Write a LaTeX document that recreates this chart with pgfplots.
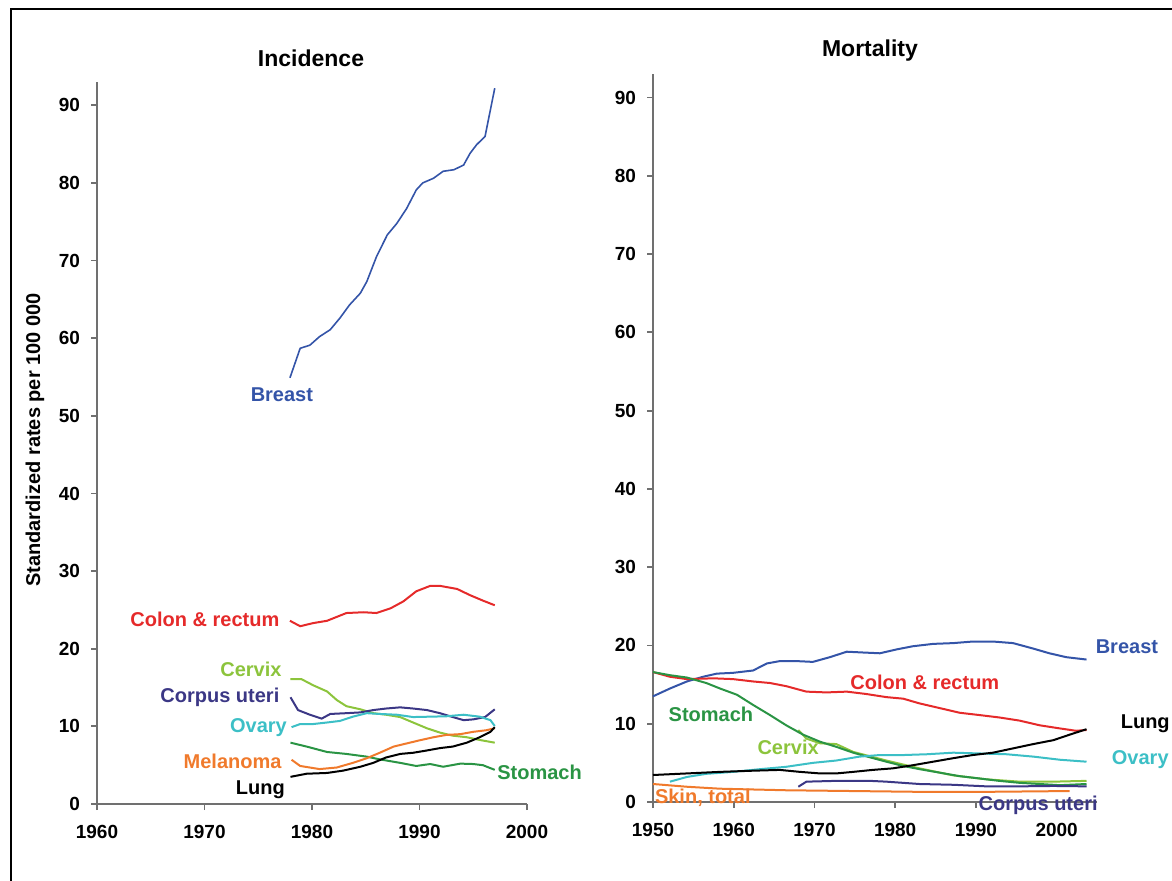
\documentclass[border=0pt]{standalone}
\usepackage{pgfplots}
\pgfplotsset{compat=1.18}
\usepackage{fontspec}
\setmainfont{Liberation Sans}
\definecolor{axgray}{HTML}{707070}
\definecolor{cbreast}{HTML}{3454A8}
\definecolor{ccolon}{HTML}{E52A2A}
\definecolor{ccervix}{HTML}{8CC43C}
\definecolor{ccorpus}{HTML}{3B3785}
\definecolor{covary}{HTML}{3CBFC6}
\definecolor{corange}{HTML}{F07A2C}
\definecolor{cstomach}{HTML}{2A9444}
\tikzset{lab/.style={font=\bfseries\fontsize{10}{12}\selectfont, inner sep=0pt}}
\pgfplotsset{
  panel/.style={
    scale only axis,
    axis lines*=left,
    axis line style={draw=axgray, line width=1.2pt},
    every tick/.style={draw=axgray, line width=0.9pt},
    tick align=outside,
    major tick length=3pt,
    ymin=0, ymax=93,
    ytick={0,10,...,90},
    clip=false,
    ticklabel style={font=\bfseries\fontsize{9.5}{10}\selectfont},
    xticklabel style={yshift=-4pt},
    yticklabel style={xshift=-2pt},
    /pgf/number format/assume math mode=true,
    /pgf/number format/1000 sep={},
    every axis plot/.append style={line width=1pt, no marks},
  },
}
\begin{document}
\begin{tikzpicture}
\useasboundingbox (0,0) rectangle (586pt,440pt);
\draw[line width=1pt] (5.5pt,435.5pt) rectangle (640pt,-20pt);
\node[font=\bfseries\fontsize{11.5}{13}\selectfont] at (155.5pt,411pt) {Incidence};
\node[font=\bfseries\fontsize{11.5}{13}\selectfont] at (435pt,414.5pt) {Mortality};
\node[font=\bfseries\fontsize{10}{12}\selectfont, rotate=90] at (17.5pt,220pt) {Standardized rates per 100 000};

% ---------------- Incidence ----------------
\begin{axis}[panel, at={(48.5pt,38pt)}, anchor=south west,
  width=215pt, height=361pt, xmin=1960, xmax=2000,
  xtick={1960,1970,...,2000}]
\addplot[cbreast, line width=0.8pt] coordinates {
(1977.95,54.9)(1978.9,58.7)(1979.8,59.1)(1980.7,60.2)(1981.7,61.1)(1982.6,62.6)
(1983.5,64.3)(1984.5,65.8)(1985.1,67.3)(1986.0,70.5)(1987.0,73.3)(1987.9,74.8)
(1988.8,76.7)(1989.7,79.1)(1990.3,80.0)(1991.3,80.6)(1992.2,81.5)(1993.2,81.7)
(1994.1,82.3)(1994.7,83.8)(1995.3,84.9)(1996.1,86.0)(1997.0,92.2)};
\addplot[ccolon] coordinates {
(1977.95,23.6)(1978.9,22.9)(1980.1,23.3)(1981.4,23.6)(1983.2,24.6)(1984.8,24.7)
(1986.0,24.6)(1987.3,25.2)(1988.5,26.1)(1989.7,27.4)(1991.0,28.1)(1991.9,28.1)
(1993.5,27.7)(1994.7,26.9)(1995.9,26.2)(1997.0,25.6)};
\addplot[ccervix] coordinates {
(1978.0,16.1)(1979.0,16.1)(1980.1,15.3)(1981.4,14.5)(1982.3,13.4)(1983.2,12.6)
(1984.5,12.2)(1985.7,11.7)(1986.9,11.5)(1988.2,11.2)(1989.4,10.5)(1990.7,9.75)
(1991.9,9.2)(1993.1,8.8)(1994.4,8.6)(1995.6,8.25)(1997.0,7.9)};
\addplot[ccorpus] coordinates {
(1978.0,13.75)(1978.7,12.1)(1979.8,11.5)(1980.9,11.0)(1981.7,11.6)(1983.2,11.7)
(1984.5,11.8)(1985.7,12.1)(1986.9,12.3)(1988.2,12.45)(1989.4,12.3)(1990.7,12.1)
(1991.9,11.7)(1993.1,11.2)(1994.1,10.8)(1995.0,10.9)(1996.1,11.2)(1997.0,12.2)};
\addplot[covary] coordinates {
(1978.1,9.9)(1978.9,10.3)(1980.1,10.3)(1981.4,10.5)(1982.6,10.7)(1983.8,11.25)
(1985.1,11.7)(1986.3,11.6)(1987.9,11.5)(1989.4,11.2)(1991.0,11.25)(1992.5,11.3)
(1994.1,11.5)(1995.6,11.25)(1996.6,10.8)(1997.0,10.05)};
\addplot[cstomach] coordinates {
(1978.0,7.9)(1979.5,7.4)(1981.4,6.7)(1983.2,6.45)(1985.1,6.1)(1986.3,5.75)
(1988.2,5.3)(1989.7,4.9)(1991.0,5.15)(1992.2,4.8)(1993.8,5.2)(1995.0,5.15)
(1995.9,5.0)(1997.0,4.4)};
\addplot[corange] coordinates {
(1978.1,5.7)(1978.9,4.9)(1980.7,4.5)(1982.3,4.7)(1983.8,5.3)(1985.1,5.9)
(1986.3,6.6)(1987.6,7.4)(1988.8,7.8)(1990.0,8.2)(1991.3,8.6)(1992.5,8.9)
(1993.8,9.0)(1995.0,9.3)(1996.2,9.5)(1997.0,9.75)};
\addplot[black] coordinates {
(1978.0,3.5)(1979.5,3.9)(1981.4,4.0)(1982.9,4.3)(1984.5,4.8)(1985.7,5.3)
(1986.9,6.0)(1988.2,6.45)(1989.4,6.6)(1990.7,6.9)(1991.9,7.2)(1993.1,7.4)
(1994.4,7.9)(1995.6,8.6)(1996.6,9.3)(1997.0,9.9)};
\node[lab, text=cbreast] at (axis cs:1977.2,52.7) {Breast};
\node[lab, text=ccolon, anchor=east] at (axis cs:1977.0,23.8) {Colon \& rectum};
\node[lab, text=ccervix, anchor=east] at (axis cs:1977.2,17.3) {Cervix};
\node[lab, text=ccorpus, anchor=east] at (axis cs:1977.0,13.7) {Corpus uteri};
\node[lab, text=covary, anchor=east] at (axis cs:1977.7,9.9) {Ovary};
\node[lab, text=corange, anchor=east] at (axis cs:1977.2,5.5) {Melanoma};
\node[lab, text=black, anchor=east] at (axis cs:1977.5,1.9) {Lung};
\node[lab, text=cstomach, anchor=west] at (axis cs:1997.2,4.1) {Stomach};
\end{axis}

% ---------------- Mortality ----------------
\begin{axis}[panel, at={(326.5pt,39pt)}, anchor=south west,
  width=222pt, height=364pt, xmin=1950, xmax=2005,
  xtick={1950,1960,...,2000}]
\addplot[cbreast] coordinates {
(1950.0,13.5)(1952.1,14.5)(1954.2,15.4)(1956.2,16.0)(1957.9,16.4)(1959.9,16.5)
(1962.4,16.8)(1964.1,17.7)(1965.7,18.0)(1967.8,18.0)(1969.8,17.9)(1971.9,18.5)
(1974.0,19.2)(1976.0,19.1)(1978.1,19.0)(1980.2,19.5)(1982.2,19.9)(1984.7,20.2)
(1987.2,20.3)(1989.6,20.5)(1992.1,20.5)(1994.6,20.3)(1997.1,19.6)(1999.1,19.0)
(2001.2,18.5)(2003.7,18.2)};
\addplot[ccolon] coordinates {
(1950.0,16.6)(1952.1,16.0)(1954.2,15.7)(1957.5,15.8)(1959.9,15.7)(1962.4,15.4)
(1964.5,15.2)(1966.5,14.8)(1969.0,14.1)(1971.5,14.0)(1974.0,14.1)(1976.4,13.8)
(1978.9,13.4)(1981.0,13.2)(1983.0,12.6)(1985.5,12.0)(1988.0,11.4)(1990.5,11.1)
(1992.9,10.8)(1995.4,10.4)(1997.9,9.8)(2000.4,9.4)(2002.4,9.1)(2003.7,9.2)};
\addplot[ccervix] coordinates {
(1968.0,9.2)(1969.0,8.1)(1970.7,7.5)(1972.7,7.4)(1974.8,6.4)(1978.9,5.3)
(1983.0,4.3)(1987.2,3.4)(1991.3,2.9)(1995.4,2.6)(1999.6,2.6)(2003.7,2.7)};
\addplot[cstomach] coordinates {
(1950.0,16.6)(1952.1,16.2)(1954.2,15.9)(1956.6,15.2)(1958.3,14.5)(1960.4,13.7)
(1962.4,12.4)(1964.5,11.1)(1966.5,9.8)(1968.6,8.6)(1970.7,7.7)(1972.7,7.05)
(1974.8,6.3)(1976.9,5.7)(1978.9,5.15)(1981.0,4.6)(1983.0,4.2)(1985.5,3.75)
(1988.0,3.3)(1990.5,3.0)(1992.9,2.7)(1995.4,2.45)(1997.9,2.3)(2000.4,2.15)
(2003.7,2.3)};
\addplot[covary] coordinates {
(1952.1,2.6)(1954.2,3.2)(1956.6,3.6)(1959.9,3.85)(1963.3,4.2)(1966.5,4.5)
(1969.8,5.0)(1972.7,5.3)(1975.6,5.8)(1978.1,6.0)(1981.0,6.0)(1983.9,6.1)
(1987.2,6.3)(1990.5,6.2)(1993.8,6.1)(1997.1,5.8)(2000.4,5.4)(2003.7,5.15)};
\addplot[black] coordinates {
(1950.0,3.45)(1954.2,3.65)(1958.3,3.85)(1962.4,4.0)(1965.7,4.1)(1968.2,3.85)
(1970.7,3.65)(1972.7,3.65)(1974.8,3.85)(1977.2,4.1)(1979.7,4.3)(1982.2,4.7)
(1984.7,5.15)(1987.2,5.6)(1989.6,6.0)(1992.1,6.3)(1994.6,6.85)(1997.1,7.4)
(1999.6,7.9)(2001.6,8.6)(2003.7,9.3)};
\addplot[ccorpus] coordinates {
(1968.0,1.95)(1969.0,2.6)(1972.7,2.7)(1976.9,2.7)(1978.9,2.6)(1983.0,2.3)
(1987.2,2.2)(1991.3,2.0)(1995.4,2.0)(1999.6,2.05)(2003.7,2.0)};
\addplot[corange] coordinates {
(1950.0,2.3)(1954.2,1.95)(1958.3,1.7)(1966.5,1.5)(1974.8,1.4)(1983.0,1.3)
(1991.3,1.3)(2001.6,1.4)};
\node[lab, text=cbreast, anchor=west] at (axis cs:2004.8,19.8) {Breast};
\node[lab, text=ccolon, anchor=west] at (axis cs:1974.4,15.3) {Colon \& rectum};
\node[lab, text=cstomach, anchor=west] at (axis cs:1951.9,11.2) {Stomach};
\node[lab, text=ccervix, anchor=west] at (axis cs:1962.9,7.0) {Cervix};
\node[lab, text=black, anchor=west] at (axis cs:2007.9,10.0) {Lung};
\node[lab, text=covary, anchor=west] at (axis cs:2006.8,5.4) {Ovary};
\node[lab, text=corange, anchor=west] at (axis cs:1950.2,0.6) {Skin, total};
\node[lab, text=ccorpus, anchor=west] at (axis cs:1990.3,-0.4) {Corpus uteri};
\end{axis}
\end{tikzpicture}
\end{document}
